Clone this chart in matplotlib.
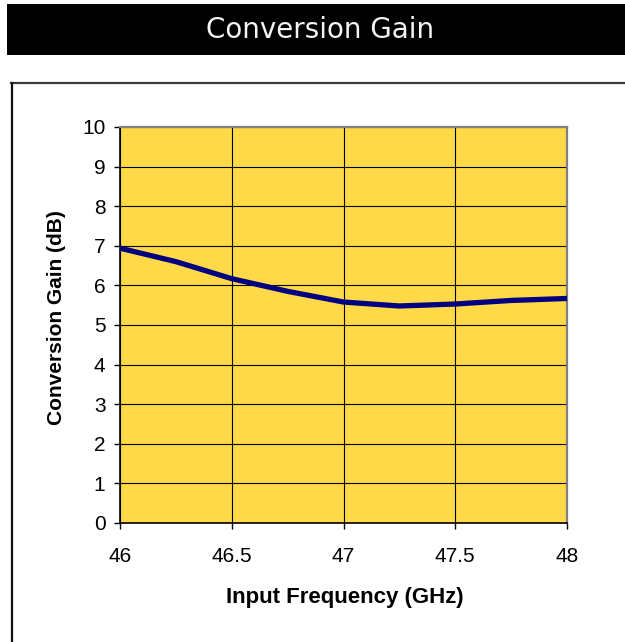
import matplotlib
matplotlib.use("Agg")
import matplotlib.pyplot as plt
from matplotlib.patches import Rectangle
from matplotlib.lines import Line2D

freq_ghz = [46.0, 46.25, 46.5, 46.75, 47.0, 47.25, 47.5, 47.75, 48.0]
gain_db = [6.94, 6.60, 6.17, 5.85, 5.58, 5.48, 5.53, 5.62, 5.67]
x_ticks = [46, 46.5, 47, 47.5, 48]
x_tick_labels = ["46", "46.5", "47", "47.5", "48"]
y_ticks = list(range(0, 11))
title_text = "Conversion Gain"
x_label = "Input Frequency (GHz)"
y_label = "Conversion Gain (dB)"

W, H = 625, 642
fig = plt.figure(figsize=(W / 100, H / 100), dpi=100)
fig.patch.set_facecolor("white")

def fx(px):
    return px / W

def fy(py):
    return 1 - py / H

# black title bar
fig.patches.append(Rectangle((fx(7), fy(55)), fx(625 - 7) + 0.01, (55 - 4) / H,
                             transform=fig.transFigure, facecolor="black",
                             edgecolor="none", zorder=0))
fig.text(fx(320), fy(29.5), title_text, color="#f4f4f4", fontsize=20,
         family="DejaVu Sans", ha="center", va="center")

# chart frame lines (top and left)
fig.add_artist(Line2D([fx(11), 1.0], [fy(83), fy(83)], transform=fig.transFigure,
                      color="#3a3a3a", lw=1.6))
fig.add_artist(Line2D([fx(12), fx(12)], [fy(83), 0.0], transform=fig.transFigure,
                      color="#111111", lw=1.6))

L, R, T, B = 120, 567, 127, 523
ax = fig.add_axes([fx(L), fy(B), (R - L) / W, (B - T) / H])
ax.set_facecolor("#FFD947")
ax.plot(freq_ghz, gain_db, color="#000080", lw=3.8, solid_capstyle="butt",
        solid_joinstyle="round", zorder=3, clip_on=False)
ax.set_xlim(46, 48)
ax.set_ylim(0, 10)
ax.set_xticks(x_ticks)
ax.set_xticklabels(x_tick_labels)
ax.set_yticks(y_ticks)
ax.grid(True, color="black", lw=0.8, zorder=1)
ax.set_axisbelow(True)
for s in ["left", "bottom"]:
    ax.spines[s].set_color("black")
    ax.spines[s].set_linewidth(1.2)
for s in ["top", "right"]:
    ax.spines[s].set_color("#808080")
    ax.spines[s].set_linewidth(1.6)
ax.tick_params(axis="both", direction="out", length=4.5, width=1.0, color="black",
               labelsize=15, labelfontfamily="Liberation Sans")
ax.tick_params(axis="x", pad=13)
ax.tick_params(axis="y", pad=6)
ax.set_xlabel(x_label, fontsize=16, fontweight="bold", family="Liberation Sans")
ax.set_ylabel(y_label, fontsize=15, fontweight="bold", family="Liberation Sans")
ax.xaxis.set_label_coords((345 - L) / (R - L), -(597 - B) / (B - T))
ax.yaxis.set_label_coords(-(L - 57) / (R - L), (B - 318) / (B - T))
ax.xaxis.label.set_va("center")
ax.yaxis.label.set_va("center")

fig.savefig("out.png", dpi=100, facecolor="white")
